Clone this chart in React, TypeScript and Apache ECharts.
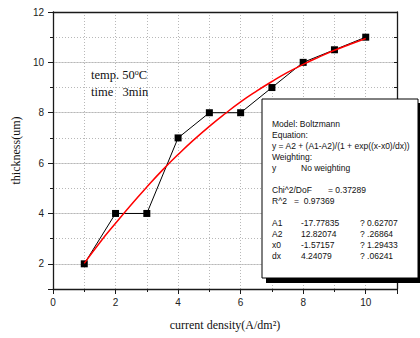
import React, { useEffect, useRef } from "react";
import * as echarts from "echarts";

const xValues = [1, 2, 3, 4, 5, 6, 7, 8, 9, 10];
const thickness = [2, 4, 4, 7, 8, 8, 9, 10, 10.5, 11];
const fitX = [1, 1.5, 2, 2.5, 3, 3.5, 4, 4.5, 5, 5.5, 6, 6.5, 7, 7.5, 8, 8.5, 9, 9.5, 10];
const fitY = [2.02, 2.85, 3.61, 4.35, 5.05, 5.72, 6.34, 6.92, 7.46, 7.96, 8.43, 8.85, 9.24, 9.6, 9.92, 10.21, 10.48, 10.72, 10.95];

const boxLines: { t: string; row: number; x: number }[] = [
  { t: "Model: Boltzmann", row: 0, x: 272 },
  { t: "Equation:", row: 1, x: 272 },
  { t: "y = A2 + (A1-A2)/(1 + exp((x-x0)/dx))", row: 2, x: 272 },
  { t: "Weighting:", row: 3, x: 272 },
  { t: "y", row: 4, x: 272 },
  { t: "No weighting", row: 4, x: 301 },
  { t: "Chi^2/DoF", row: 6, x: 272 },
  { t: "= 0.37289", row: 6, x: 328 },
  { t: "R^2", row: 7, x: 272 },
  { t: "=  0.97369", row: 7, x: 294 },
  { t: "A1", row: 9, x: 272 },
  { t: "-17.77835", row: 9, x: 301 },
  { t: "? 0.62707", row: 9, x: 360 },
  { t: "A2", row: 10, x: 272 },
  { t: "12.82074", row: 10, x: 301 },
  { t: "? .26864", row: 10, x: 360 },
  { t: "x0", row: 11, x: 272 },
  { t: "-1.57157", row: 11, x: 301 },
  { t: "? 1.29433", row: 11, x: 360 },
  { t: "dx", row: 12, x: 272 },
  { t: "4.24079", row: 12, x: 301 },
  { t: "? .06241", row: 12, x: 360 },
];

const SANS = "'Liberation Sans', Arial, sans-serif";
const SERIF = "'Liberation Serif', 'Times New Roman', serif";

export default function App() {
  const ref = useRef<HTMLDivElement>(null);
  useEffect(() => {
    const chart = echarts.init(ref.current!, undefined, { renderer: "svg" });
    const evenOnly = (v: number) => (v % 2 === 0 ? String(v) : "");
    const axisColor = "#1a1a1a";
    const option: any = {
      animation: false,
      backgroundColor: "#ffffff",
      grid: { left: 53, right: 23, top: 12, bottom: 49 },
      xAxis: [
        {
          type: "value",
          min: 0,
          max: 11,
          interval: 2,
          position: "bottom",
          name: "current density(A/dm²)",
          nameLocation: "middle",
          nameGap: 30,
          nameTextStyle: { fontFamily: SERIF, fontSize: 12, color: "#111" },
          axisLine: { show: true, onZero: false, lineStyle: { color: axisColor, width: 1.3 } },
          axisTick: { show: true, inside: false, length: 5, lineStyle: { color: axisColor } },
          axisLabel: { formatter: evenOnly, fontFamily: SANS, fontSize: 10, color: "#222", margin: 8 },
          splitLine: { show: false },
        },
        {
          type: "value",
          min: 0,
          max: 11,
          interval: 1,
          position: "bottom",
          axisLine: { show: false },
          axisTick: { show: true, inside: false, length: 3, lineStyle: { color: axisColor } },
          axisLabel: { show: false },
          splitLine: { show: true, lineStyle: { color: "#b8b8b8", type: [1, 2], width: 1 } },
        },
        {
          type: "value",
          min: 0,
          max: 11,
          interval: 1,
          position: "top",
          axisLine: { show: true, onZero: false, lineStyle: { color: axisColor, width: 1.3 } },
          axisTick: { show: false },
          axisLabel: { show: false },
          splitLine: { show: false },
        },
      ],
      yAxis: [
        {
          type: "value",
          min: 1,
          max: 12,
          splitNumber: 5,
          position: "left",
          name: "thickness(um)",
          nameLocation: "middle",
          nameGap: 29,
          nameTextStyle: { fontFamily: SERIF, fontSize: 12, color: "#111" },
          axisLine: { show: true, onZero: false, lineStyle: { color: axisColor, width: 1.3 } },
          axisTick: { show: true, inside: false, length: 5, lineStyle: { color: axisColor } },
          axisLabel: { formatter: evenOnly, fontFamily: SANS, fontSize: 10, color: "#222", margin: 9 },
          splitLine: { show: true, lineStyle: { color: "#cfcfcf", width: 1 } },
        },
        {
          type: "value",
          min: 1,
          max: 12,
          interval: 1,
          position: "left",
          axisLine: { show: false },
          axisTick: { show: true, inside: false, length: 3, lineStyle: { color: axisColor } },
          axisLabel: { show: false },
          splitLine: { show: true, lineStyle: { color: "#b8b8b8", type: [1, 2], width: 1 } },
        },
        {
          type: "value",
          min: 1,
          max: 12,
          interval: 1,
          position: "right",
          axisLine: { show: true, onZero: false, lineStyle: { color: axisColor, width: 1.3 } },
          axisTick: { show: true, inside: true, length: 3, lineStyle: { color: axisColor } },
          axisLabel: { show: false },
          splitLine: { show: false },
        },
      ],
      series: [
        {
          type: "line",
          xAxisIndex: 0,
          yAxisIndex: 0,
          data: xValues.map((x, i) => [x, thickness[i]]),
          symbol: "rect",
          symbolSize: 7,
          itemStyle: { color: "#000" },
          lineStyle: { color: "#000", width: 1 },
          z: 3,
        },
        {
          type: "line",
          xAxisIndex: 0,
          yAxisIndex: 0,
          data: fitX.map((x, i) => [x, fitY[i]]),
          smooth: true,
          symbol: "none",
          lineStyle: { color: "#ff0000", width: 1.5 },
          z: 4,
        },
      ],
      graphic: [
        {
          type: "text",
          left: 91,
          top: 68,
          z: 10,
          style: {
            text: "temp. 50{sup|o}C",
            fontFamily: SERIF,
            fontSize: 12.5,
            fill: "#111",
            rich: { sup: { fontSize: 8, verticalAlign: "top", padding: [0, 0, 5, 0], fontFamily: SERIF, fill: "#111" } },
          },
        },
        {
          type: "text",
          left: 91,
          top: 85,
          z: 10,
          style: { text: "time   3min", fontFamily: SERIF, fontSize: 12.5, fill: "#111" },
        },
        {
          type: "rect",
          shape: { x: 266, y: 103, width: 160, height: 180 },
          style: { fill: "#000" },
          z: 20,
        },
        {
          type: "rect",
          shape: { x: 262, y: 99, width: 156, height: 179 },
          style: { fill: "#fff", stroke: "#000", lineWidth: 1 },
          z: 21,
        },
        ...boxLines.map((l) => ({
          type: "text",
          x: l.x,
          y: 124 + l.row * 11,
          z: 22,
          style: {
            text: l.t,
            fontFamily: SANS,
            fontSize: 8.5,
            fill: "#111",
            textVerticalAlign: "middle",
            verticalAlign: "middle",
          },
        })),
      ],
    };
    chart.setOption(option);
    return () => chart.dispose();
  }, []);
  return (
    <div
      ref={ref}
      style={{ position: "absolute", left: 0, top: 0, width: 420, height: 338 }}
    />
  );
}
